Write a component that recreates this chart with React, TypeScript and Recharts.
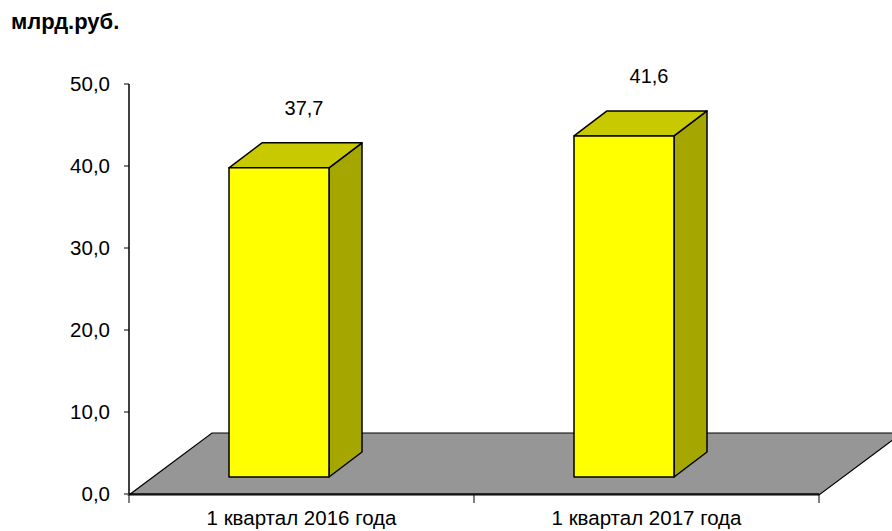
import { Bar, BarChart, LabelList, ReferenceArea, XAxis, YAxis } from 'recharts'

const categories = ['1 квартал 2016 года', '1 квартал 2017 года']
const values = [37.7, 41.6]
const yTicks = [0, 10, 20, 30, 40, 50]

const data = categories.map((name, i) => ({ name, value: values[i] }))

const FONT = 'Liberation Sans, Arial, sans-serif'
// смещения псевдо-3D
const LIFT = 17
const DX = 33
const DY = 25
const SHIFT = -23
const FLOOR_DX = 83
const FLOOR_DY = 62

const Box3D = (props: any) => {
  const { x, y, width, height } = props
  const x0 = x + SHIFT
  const top = y - LIFT
  const bottom = y + height - LIFT
  const w = width
  return (
    <g stroke="#000" strokeWidth={1.5} strokeLinejoin="round">
      <polygon
        points={`${x0 + w},${top} ${x0 + w + DX},${top - DY} ${x0 + w + DX},${bottom - DY} ${x0 + w},${bottom}`}
        fill="#a6a600"
      />
      <polygon
        points={`${x0},${top} ${x0 + DX},${top - DY} ${x0 + w + DX},${top - DY} ${x0 + w},${top}`}
        fill="#c9c900"
      />
      <rect x={x0} y={top} width={w} height={bottom - top} fill="#ffff00" />
    </g>
  )
}

const Floor = (props: any) => {
  const { x, y, width, height } = props
  const b = y + height + 1
  return (
    <g>
      <polygon
        points={`${x},${b} ${x + width},${b} ${x + width + FLOOR_DX},${b - FLOOR_DY} ${x + FLOOR_DX},${b - FLOOR_DY}`}
        fill="#969696"
        stroke="#000"
        strokeWidth={1.2}
      />
      {[0, 0.5, 1].map((f) => (
        <line key={f} x1={x + width * f} x2={x + width * f} y1={b} y2={b + 8} stroke="#000" strokeWidth={1} />
      ))}
    </g>
  )
}

const ValueLabel = (props: any) => {
  const { x, y, width, value } = props
  return (
    <text
      x={x + SHIFT + width / 2 + 25}
      y={y - LIFT - DY - 35}
      textAnchor="middle"
      dominantBaseline="central"
      fontSize={20}
      fontFamily={FONT}
      fill="#000"
    >
      {String(value).replace('.', ',')}
    </text>
  )
}

export default function App() {
  return (
    <div style={{ position: 'absolute', left: 0, top: 0, width: 892, height: 531, background: '#fff' }}>
      <div
        style={{
          position: 'absolute',
          left: 11,
          top: 9,
          fontFamily: FONT,
          fontWeight: 'bold',
          fontSize: 22,
          lineHeight: '26px',
          color: '#000',
        }}
      >
        млрд.руб.
      </div>
      <BarChart
        width={892}
        height={531}
        data={data}
        margin={{ top: 84, right: 73, left: 69, bottom: 0 }}
        barCategoryGap="0%"
      >
        <ReferenceArea y1={0} y2={50} ifOverflow="visible" shape={<Floor />} />
        <XAxis
          dataKey="name"
          height={37}
          axisLine={{ stroke: '#000', strokeWidth: 1.5 }}
          tickLine={false}
          tickSize={0}
          tickMargin={16}
          tick={{ fill: '#000', fontSize: 20.5, fontFamily: FONT }}
          interval={0}
        />
        <YAxis
          width={60}
          domain={[0, 50]}
          ticks={yTicks}
          tickFormatter={(v: number) => v.toFixed(1).replace('.', ',')}
          axisLine={{ stroke: '#000', strokeWidth: 1.5 }}
          tickLine={{ stroke: '#000' }}
          tickSize={5}
          tickMargin={14}
          tick={{ fill: '#000', fontSize: 20.5, fontFamily: FONT }}
          interval={0}
        />
        <Bar dataKey="value" barSize={100} shape={<Box3D />} isAnimationActive={false}>
          <LabelList dataKey="value" content={<ValueLabel />} />
        </Bar>
      </BarChart>
    </div>
  )
}
